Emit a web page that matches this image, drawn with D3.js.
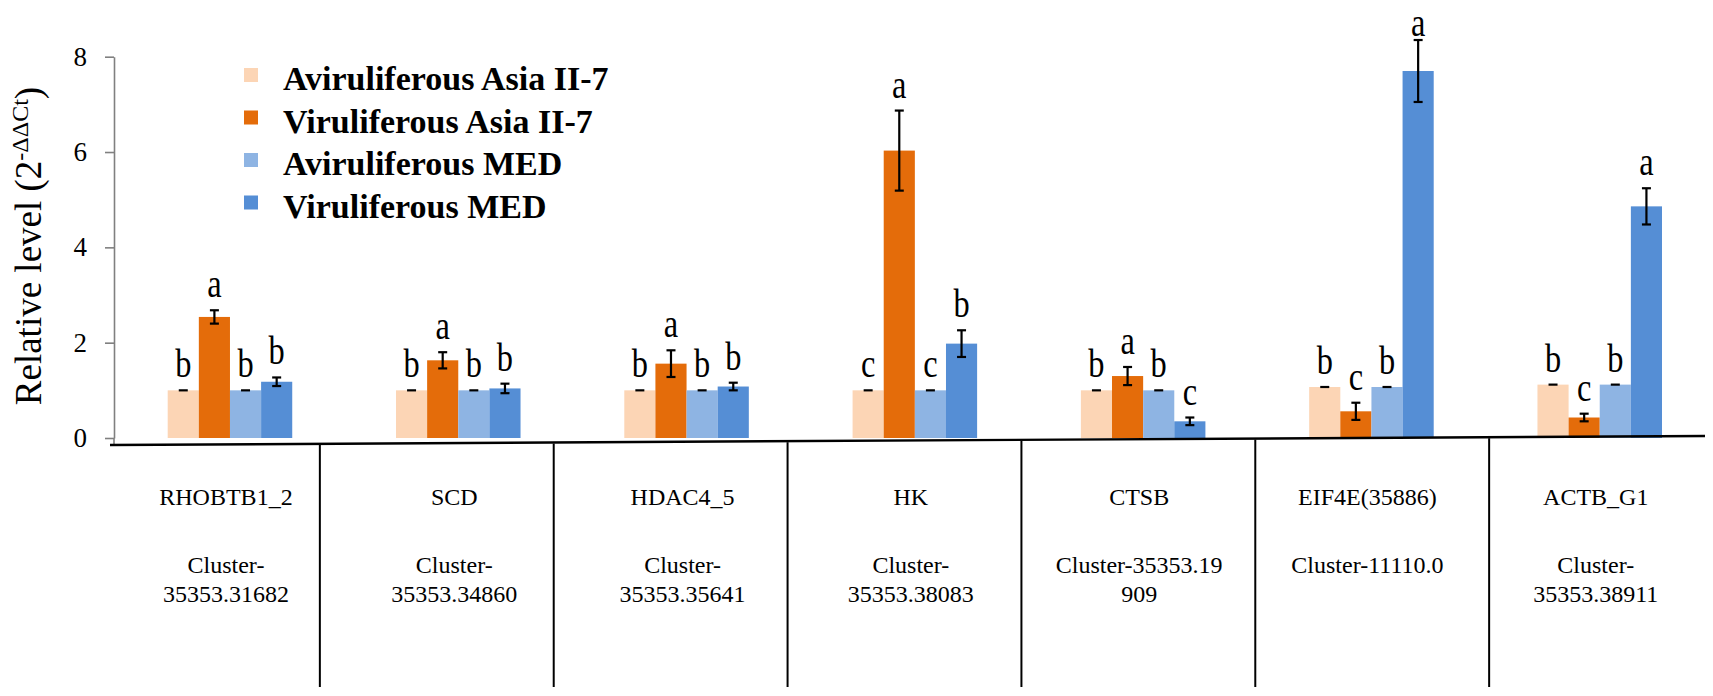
<!DOCTYPE html>
<html>
<head>
<meta charset="utf-8">
<script src="https://cdn.jsdelivr.net/npm/d3@7/dist/d3.min.js"></script>
<style>
  html, body { margin: 0; padding: 0; background: #fff; }
  svg { display: block; font-family: "Liberation Serif", "Times New Roman", serif; }
  svg text { font-family: "Liberation Serif", "Times New Roman", serif; fill: #000; }
</style>
</head>
<body>
<div id="chart"></div>
<script>
// genes shown on the x axis
var genes = ["RHOBTB1_2", "SCD", "HDAC4_5", "HK", "CTSB", "EIF4E(35886)", "ACTB_G1"];

// cluster ids printed under each gene (one entry per printed line)
var clusterLines = [
  ["Cluster-", "35353.31682"],
  ["Cluster-", "35353.34860"],
  ["Cluster-", "35353.35641"],
  ["Cluster-", "35353.38083"],
  ["Cluster-35353.19", "909"],
  ["Cluster-11110.0"],
  ["Cluster-", "35353.38911"]
];

var seriesNames = ["Aviruliferous Asia II-7", "Viruliferous Asia II-7", "Aviruliferous MED", "Viruliferous MED"];
var seriesColors = ["#fcd5b5", "#e46c0a", "#8eb4e3", "#558ed5"];

// relative level (2^-ddCt), one value per gene
var avirAsia = [1.00, 1.00, 1.00, 1.00, 1.00, 1.07, 1.12];
var virAsia  = [2.54, 1.63, 1.56, 6.03, 1.30, 0.56, 0.43];
var avirMed  = [1.00, 1.00, 1.00, 1.00, 1.00, 1.07, 1.12];
var virMed   = [1.18, 1.04, 1.08, 1.98, 0.35, 7.70, 4.86];

// error bars
var avirAsiaErr = [0, 0, 0, 0, 0, 0, 0];
var virAsiaErr  = [0.14, 0.17, 0.28, 0.84, 0.19, 0.18, 0.08];
var avirMedErr  = [0, 0, 0, 0, 0, 0, 0];
var virMedErr   = [0.09, 0.10, 0.08, 0.28, 0.08, 0.65, 0.38];

// significance letters
var avirAsiaSig = ["b", "b", "b", "c", "b", "b", "b"];
var virAsiaSig  = ["a", "a", "a", "a", "a", "c", "c"];
var avirMedSig  = ["b", "b", "b", "c", "b", "b", "b"];
var virMedSig   = ["b", "b", "b", "b", "c", "a", "a"];

var yTicks = [0, 2, 4, 6, 8];

var values = [avirAsia, virAsia, avirMed, virMed];
var errors = [avirAsiaErr, virAsiaErr, avirMedErr, virMedErr];
var letters = [avirAsiaSig, virAsiaSig, avirMedSig, virMedSig];

var width = 1713, height = 696;
var serif = "Liberation Serif";

var svg = d3.select("#chart").append("svg")
  .attr("width", width)
  .attr("height", height);

var y = d3.scaleLinear().domain([0, 8]).range([438, 56.7]);

var x = d3.scaleBand().domain(genes).range([167.7, 1662]).paddingInner(0.4545).paddingOuter(0);
var xs = d3.scaleBand().domain(d3.range(seriesNames.length)).range([0, x.bandwidth()]);

// the table under the plot has its own column grid
var xTable = d3.scaleBand().domain(genes).range([86, 1723]);

// flatten to one record per bar
var bars = [];
genes.forEach(function(g, gi) {
  values.forEach(function(arr, si) {
    bars.push({gene: g, s: si, value: arr[gi], err: errors[si][gi], sig: letters[si][gi]});
  });
});

// Y axis
var axisX = 114;
var yAxis = svg.append("g")
  .attr("transform", "translate(" + axisX + ",0)")
  .call(d3.axisLeft(y).tickValues(yTicks).tickSize(9).tickSizeOuter(0).tickPadding(18));

yAxis.attr("font-family", serif);
yAxis.select(".domain").attr("stroke", "#808080").attr("stroke-width", 1.6);
yAxis.selectAll(".tick line").attr("stroke", "#808080").attr("stroke-width", 1.6);
yAxis.selectAll(".tick text")
  .attr("font-family", serif)
  .attr("font-size", 27)
  .attr("fill", "#000");

// stub of the y axis down to the x axis line
svg.append("line")
  .attr("x1", axisX).attr("x2", axisX)
  .attr("y1", y(0)).attr("y2", 445)
  .attr("stroke", "#808080").attr("stroke-width", 1.6);

// Y axis title
var yTitle = svg.append("text")
  .attr("transform", "translate(41,246) rotate(-90)")
  .attr("text-anchor", "middle")
  .attr("font-family", serif)
  .attr("font-size", 37);
yTitle.append("tspan").text("Relative level (2");
yTitle.append("tspan").attr("baseline-shift", "super").attr("font-size", 24).text("-\u0394\u0394Ct");
yTitle.append("tspan").text(")");

// Bars
var barW = xs.bandwidth();
svg.append("g").selectAll("rect")
  .data(bars)
  .enter().append("rect")
  .attr("x", function(d) { return x(d.gene) + xs(d.s); })
  .attr("y", function(d) { return y(d.value); })
  .attr("width", barW)
  .attr("height", function(d) { return y(0) - y(d.value); })
  .attr("fill", function(d) { return seriesColors[d.s]; });

// Error bars
var cap = 4.5;
var eb = svg.append("g").attr("stroke", "#000").attr("stroke-width", 2.2);
bars.forEach(function(d) {
  var cx = x(d.gene) + xs(d.s) + barW / 2;
  var top = y(d.value + d.err), bot = y(d.value - d.err);
  if (d.err > 0) {
    eb.append("line").attr("x1", cx).attr("x2", cx).attr("y1", top).attr("y2", bot);
    eb.append("line").attr("x1", cx - cap).attr("x2", cx + cap).attr("y1", bot).attr("y2", bot);
  }
  eb.append("line").attr("x1", cx - cap).attr("x2", cx + cap).attr("y1", top).attr("y2", top);
});

// Significance letters
svg.append("g").selectAll("text")
  .data(bars)
  .enter().append("text")
  .attr("transform", function(d) {
    var cx = x(d.gene) + xs(d.s) + barW / 2;
    var base = Math.max(y(d.value + d.err) - 13, 36);
    return "translate(" + cx + "," + base + ") scale(0.9,1.12)";
  })
  .attr("text-anchor", "middle")
  .attr("font-family", serif)
  .attr("font-size", 36)
  .text(function(d) { return d.sig; });

// X axis line (slightly tilted, as in the source figure)
svg.append("line")
  .attr("x1", 110).attr("y1", 445)
  .attr("x2", 1705).attr("y2", 436)
  .attr("stroke", "#000").attr("stroke-width", 2.4);

// Table dividers
svg.append("g").selectAll("line")
  .data(genes.slice(1))
  .enter().append("line")
  .attr("x1", function(g) { return xTable(g); })
  .attr("x2", function(g) { return xTable(g); })
  .attr("y1", function(g) { return 445 - (xTable(g) - 110) * 9 / 1595 + 1; })
  .attr("y2", 687)
  .attr("stroke", "#000").attr("stroke-width", 2);

// Gene names
svg.append("g").selectAll("text")
  .data(genes)
  .enter().append("text")
  .attr("x", function(g) { return x(g) + x.bandwidth() / 2 - 4; })
  .attr("y", 505)
  .attr("text-anchor", "middle")
  .attr("font-family", serif)
  .attr("font-size", 24)
  .text(function(g) { return g; });

// Cluster ids
var cl = svg.append("g");
genes.forEach(function(g, gi) {
  var t = cl.append("text")
    .attr("text-anchor", "middle")
    .attr("font-family", serif)
    .attr("font-size", 24);
  clusterLines[gi].forEach(function(line, li) {
    t.append("tspan")
      .attr("x", x(g) + x.bandwidth() / 2 - 4)
      .attr("y", 573 + li * 28.5)
      .text(line);
  });
});

// Legend
var legend = svg.append("g").attr("transform", "translate(244,90)");
var item = legend.selectAll("g")
  .data(seriesNames)
  .enter().append("g")
  .attr("transform", function(d, i) { return "translate(0," + (i * 42.5) + ")"; });
item.append("rect")
  .attr("x", 0).attr("y", -22)
  .attr("width", 14).attr("height", 14)
  .attr("fill", function(d, i) { return seriesColors[i]; });
item.append("text")
  .attr("x", 39).attr("y", 0)
  .attr("font-family", serif)
  .attr("font-size", 34)
  .attr("font-weight", "bold")
  .text(function(d) { return d; });
</script>
</body>
</html>
